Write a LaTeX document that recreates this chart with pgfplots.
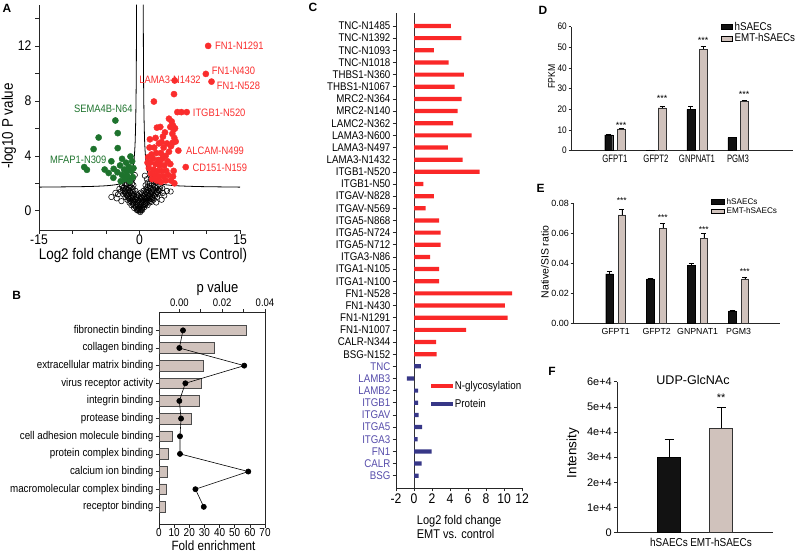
\documentclass[border=0pt]{standalone}
\usepackage{pgfplots}
\pgfplotsset{compat=1.18}
\usepackage{fontspec}
\setmainfont{Liberation Sans}
\newfontfamily\nar[FakeStretch=0.87]{Liberation Sans}
\newfontfamily\narr[FakeStretch=0.72]{Liberation Sans}
\newcommand\fsz[1]{\fontsize{#1}{#1}\selectfont}
\definecolor{volred}{RGB}{250,45,45}
\definecolor{volgreen}{RGB}{30,115,45}
\definecolor{beige}{RGB}{208,194,188}
\definecolor{barblk}{RGB}{18,18,18}
\definecolor{glyred}{RGB}{250,40,40}
\definecolor{protblue}{RGB}{55,55,135}
\definecolor{protlab}{RGB}{85,75,170}
\pgfplotsset{every axis/.append style={
  /pgf/number format/assume math mode=true,
  scale only axis, anchor=south west, scaled ticks=false,
  axis line style={line width=0.7bp, black!85},
  tick style={line width=0.6bp, black!85},
  tick align=outside},
  errs/.style={error bars/.cd, y dir=plus, y explicit,
    error bar style={line width=0.6bp, black},
    error mark options={rotate=90, mark size=#1, line width=0.6bp}}}
\begin{document}
\begin{tikzpicture}[x=1bp,y=1bp]
\useasboundingbox (0,0) rectangle (800,553);

% ---------------- A: volcano
\begin{axis}[at={(39bp,323bp)}, width=201bp, height=225.3bp,
  xmin=-15, xmax=15, ymin=-1.4, ymax=15,
  axis x line*=bottom, axis y line*=left,
  xtick={-15,0,15}, minor xtick={-10,-5,5,10},
  ytick={0,4,8,12}, minor ytick={2,6,10,14},
  major tick length=4bp, minor tick length=4bp,
  tick label style={font=\nar\fsz{14}},
  xticklabel style={inner sep=1bp}, clip=false]
\addplot[only marks, mark=o, mark size=2.7bp, mark options={black, line width=0.55bp}] coordinates {
(-0.4,0.05) (-0.2,0.0) (0,0.05) (0.2,0.0) (0.4,0.05) (0.1,-0.1) (-0.1,0.15)
(-0.8,0.2) (-0.5,0.25) (-0.2,0.2) (0.1,0.25) (0.4,0.2) (0.7,0.25)
(-1.2,0.4) (-0.9,0.45) (-0.6,0.4) (-0.3,0.45) (0,0.4) (0.3,0.45) (0.6,0.4) (0.9,0.45) (1.2,0.4)
(-1.5,0.6) (-1.2,0.65) (-0.9,0.6) (-0.6,0.65) (-0.3,0.6) (0,0.65) (0.3,0.6) (0.6,0.65) (0.9,0.6) (1.2,0.65) (1.5,0.6) (1.8,0.65)
(-1.8,0.8) (-1.4,0.85) (-1.0,0.8) (-0.6,0.85) (-0.2,0.8) (0.2,0.85) (0.6,0.8) (1.0,0.85) (1.4,0.8) (1.8,0.85) (2.1,0.8)
(-2.1,1.0) (-1.7,1.05) (-1.3,1.0) (-0.9,1.05) (-0.5,1.0) (-0.1,1.05) (0.3,1.0) (0.7,1.05) (1.1,1.0) (1.5,1.05) (1.9,1.0) (2.3,1.05) (2.6,1.0)
(-2.4,1.2) (-2.0,1.25) (-1.6,1.2) (-1.2,1.25) (-0.8,1.2) (-0.4,1.25) (0.4,1.25) (0.8,1.2) (1.2,1.25) (1.6,1.2) (2.0,1.25) (2.4,1.2) (2.8,1.25)
(-2.8,1.4) (-2.2,1.45) (-1.8,1.4) (-1.4,1.45) (-1.0,1.4) (-0.6,1.45) (0.6,1.45) (1.0,1.4) (1.4,1.45) (1.8,1.4) (2.2,1.45) (2.6,1.4) (3.0,1.45)
(-3.0,1.6) (-2.5,1.65) (-2.0,1.6) (-1.5,1.65) (-1.0,1.6) (1.0,1.6) (1.5,1.65) (2.0,1.6) (2.5,1.65) (3.0,1.6) (3.4,1.65)
(-2.6,1.8) (-2.0,1.85) (-1.4,1.8) (-0.9,1.85) (0.9,1.85) (1.5,1.8) (2.1,1.85) (2.7,1.8)
(-2.2,2.0) (-1.6,2.05) (-1.1,2.0) (1.2,2.05) (1.8,2.0) (2.4,2.05)
(-1.5,2.3) (-1.0,2.35) (1.1,2.3) (1.7,2.35) (-0.7,2.6) (0.8,2.55)
(-0.3,0.1) (0.3,0.1) (-0.6,0.3) (0.5,0.3) (-1.0,0.5) (-0.45,0.5) (0.15,0.5) (0.75,0.5) (1.05,0.55)
(-1.35,0.7) (-0.75,0.7) (-0.15,0.7) (0.45,0.7) (1.05,0.7) (1.6,0.72) (-1.6,0.9) (-1.2,0.92) (-0.4,0.9)
(0.4,0.92) (0.8,0.9) (1.2,0.92) (1.6,0.9) (1.95,0.92) (-1.9,1.12) (-1.1,1.12) (-0.3,1.12) (0.5,1.12)
(1.3,1.12) (2.1,1.12) (-2.2,1.32) (-1.4,1.32) (0.2,1.32) (1.0,1.32) (1.8,1.32) (2.6,1.32) (-2.5,1.52)
(-1.6,1.52) (1.2,1.52) (2.0,1.52) (2.8,1.52) (-2.3,1.7) (-1.2,1.7) (1.2,1.72) (2.3,1.72) (3.1,1.75)
(-1.9,1.95) (1.5,1.95) (2.1,2.15) (-1.3,2.15) (-3.2,1.2) (3.5,1.3)
(-4.2,1.0) (-3.6,1.3) (-3.4,0.9) (4.1,1.45) (4.65,1.4) (3.7,1.1) (3.3,0.8) (-2.7,0.7) (2.5,0.6)};
\addplot[black, line width=0.8bp, smooth] coordinates {(-15,1.72) (-8,1.76) (-5,1.82) (-3.5,1.9) (-2.5,2.0) (-1.8,2.2) (-1.3,2.5) (-1.0,3.0) (-0.8,3.8) (-0.65,5) (-0.55,7) (-0.48,10) (-0.44,15)};
\addplot[black, line width=0.8bp, smooth] coordinates {(0.56,15) (0.6,10) (0.67,7) (0.77,5) (0.92,3.8) (1.1,3.0) (1.45,2.5) (2.0,2.2) (2.7,2.0) (3.8,1.9) (5.5,1.82) (9,1.76) (15,1.72)};
\addplot[only marks, mark=*, mark size=3.1bp, volgreen] coordinates {
(-3.6,6.57) (-3.25,5.65) (-6.1,5.33) (-6.85,4.49) (-3.25,4.56) (-8.25,3.18) (-7.85,2.98) (-3.85,3.05) (-2.6,3.78) (-1.35,3.95) (-1.1,3.6) (-2.0,3.5) (-2.9,3.3) (-1.6,3.2) (-2.3,3.0) (-1.2,2.9) (-3.3,2.8) (-4.6,2.75) (-2.6,2.6) (-1.8,2.5) (-1.0,2.45) (-2.2,2.3) (-3.9,2.4) (-1.45,2.15) (-2.8,2.15) (-5.2,3.0) (-0.9,3.1) (-1.9,2.85) (-4.2,3.6)};
\addplot[only marks, mark=*, mark size=3.1bp, volred] coordinates {
(10.25,12.0) (9.9,9.96) (10.75,9.4) (5.25,9.48) (5.15,8.49) (2.15,7.95) (5.65,7.18) (6.25,7.18) (7.05,7.18) (5.8,4.38) (6.9,3.18)
(4.4,6.7) (4.8,6.5) (5.0,6.2) (5.1,5.9) (4.9,5.6) (5.3,6.0) (4.6,6.1) (5.2,5.3) (4.95,4.95) (5.4,5.04)
(1.55,5.2) (2.6,6.05) (3.1,6.1) (3.8,5.7) (3.5,5.4) (4.1,4.9) (2.9,4.9) (2.2,4.6) (3.6,4.6) (4.4,4.3) (1.8,4.1) (2.5,4.2) (3.2,4.2) (3.9,4.0) (1.3,3.9) (2.0,3.8) (2.8,3.7) (3.4,3.8) (4.2,3.6) (1.6,3.5) (2.4,3.4) (3.0,3.3) (3.7,3.3) (4.6,3.4) (1.4,3.1) (2.1,3.0) (2.7,2.9) (3.3,2.9) (4.0,2.9) (1.7,2.7) (2.3,2.6) (2.9,2.5) (3.6,2.5) (4.3,2.6) (5.1,2.9) (1.9,2.3) (2.6,2.2) (3.2,2.1) (3.9,2.2) (4.7,2.2) (5.2,2.0) (1.5,4.6) (2.4,5.3) (3.3,5.0) (4.7,4.7) (3.1,3.65) (5.0,2.5) (1.2,3.5)};
\end{axis}
\node[font=\bfseries\fsz{12}] at (7,545) {A};
\node[font=\nar\fsz{15.5}, rotate=90] at (9,427) {-log10 P value};
\node[font=\nar\fsz{15.5}] at (143,297) {Log2 fold change (EMT vs Control)};
\begin{scope}[font=\nar\fsz{10.8}, text=volred, inner sep=0pt]
\node[anchor=west] at (215,507) {FN1-N1291};
\node[anchor=west] at (211.7,482.3) {FN1-N430};
\node[anchor=west] at (216.7,467) {FN1-N528};
\node at (170,473) {LAMA3-N1432};
\node[anchor=west] at (192.7,440.3) {ITGB1-N520};
\node[anchor=west] at (186,402.3) {ALCAM-N499};
\node[anchor=west] at (192.3,384.7) {CD151-N159};
\end{scope}
\begin{scope}[font=\nar\fsz{10.8}, text=volgreen, inner sep=0pt]
\node[anchor=west] at (74,443.7) {SEMA4B-N64};
\node[anchor=west] at (50,393) {MFAP1-N309};
\end{scope}

% ---------------- B: GO enrichment
\begin{axis}[at={(159bp,28.5bp)}, width=106bp, height=211.8bp,
  xmin=0, xmax=70, ymin=-1, ymax=11,
  xtick={0,10,...,70}, xtick pos=bottom, ytick pos=left,
  ytick={0,...,10},
  yticklabels={receptor binding, macromolecular complex binding, calcium ion binding, protein complex binding, cell adhesion molecule binding, protease binding, integrin binding, virus receptor activity, extracellular matrix binding, collagen binding, fibronectin binding},
  major tick length=3.5bp,
  xticklabel style={font=\nar\fsz{11.5}, inner sep=0.5bp},
  yticklabel style={font=\nar\fsz{11.3}, inner sep=2bp}]
\addplot[xbar, bar width=10.5bp, bar shift=0pt, fill=beige, draw=black!70, line width=0.5bp] coordinates {(4.0,0) (5.1,1) (5.5,2) (6.4,3) (8.8,4) (21.4,5) (26.4,6) (28,7) (29.5,8) (36.8,9) (57.9,10)};
\end{axis}
\begin{axis}[at={(159bp,28.5bp)}, width=106bp, height=211.8bp,
  xmin=-0.0095, xmax=0.04, ymin=-1, ymax=11,
  axis x line*=top, axis y line=none,
  xtick={0,0.01,0.02,0.03,0.04}, xticklabels={0.00,,0.02,,0.04},
  major tick length=3.5bp,
  xticklabel style={font=\nar\fsz{11}, inner sep=2bp}, clip=false]
\addplot[black, line width=0.6bp, mark=*, mark size=2.6bp] coordinates {(0.0017,10) (0.0,9) (0.0303,8) (0.0028,7) (0.0,6) (0.0008,5) (0.0003,4) (0.0003,3) (0.0322,2) (0.0075,1) (0.0114,0)};
\end{axis}
\node[font=\bfseries\fsz{12}] at (16.7,258) {B};
\node[font=\nar\fsz{15}] at (217.5,264) {p value};
\node[font=\nar\fsz{13.5}, inner sep=0pt] at (213.5,7.6) {Fold enrichment};

% ---------------- C: glyco sites
\begin{axis}[at={(396bp,65bp)}, width=126bp, height=475bp,
  xmin=-2, xmax=12, ymin=-1.01, ymax=38.07,
  axis x line*=bottom, axis y line*=left,
  xtick={-2,0,...,12}, ytick={0,...,37},
  yticklabels={{\color{protlab}BSG},{\color{protlab}CALR},{\color{protlab}FN1},{\color{protlab}ITGA3},{\color{protlab}ITGA5},{\color{protlab}ITGAV},{\color{protlab}ITGB1},{\color{protlab}LAMB2},{\color{protlab}LAMB3},{\color{protlab}TNC},
    BSG-N152,CALR-N344,FN1-N1007,FN1-N1291,FN1-N430,FN1-N528,ITGA1-N100,ITGA1-N105,ITGA3-N86,ITGA5-N712,ITGA5-N724,ITGA5-N868,ITGAV-N569,ITGAV-N828,ITGB1-N50,ITGB1-N520,LAMA3-N1432,LAMA3-N497,LAMA3-N600,LAMC2-N362,MRC2-N140,MRC2-N364,THBS1-N1067,THBS1-N360,TNC-N1018,TNC-N1093,TNC-N1392,TNC-N1485},
  major tick length=3.5bp,
  xticklabel style={font=\nar\fsz{14}, inner sep=2bp},
  yticklabel style={font=\nar\fsz{11.2}, inner sep=2bp},
  legend style={at={(axis description cs:0.275,0.229)}, anchor=north west, draw=none, fill=none, font=\nar\fsz{11.3}, row sep=4bp, inner sep=0pt},
  legend cell align=left,
  legend image code/.code={\fill[#1] (0bp,-2.2bp) rectangle (22bp,2.2bp);}]
\draw[black!80, line width=0.8bp] (axis cs:0,-1.01) -- (axis cs:0,38.07);
\addplot[xbar, bar width=4.2bp, bar shift=0pt, fill=glyred, draw=none] coordinates {
(2.5,10) (2.45,11) (5.8,12) (10.4,13) (10.1,14) (10.9,15) (2.8,16) (2.8,17) (1.8,18) (2.95,19) (2.95,20) (2.8,21) (1.3,22) (2.2,23) (1.05,24) (7.3,25) (5.4,26) (3.75,27) (6.4,28) (4.35,29) (4.85,30) (5.3,31) (4.5,32) (5.55,33) (3.85,34) (2.2,35) (5.25,36) (4.1,37)};
\addlegendentry{N-glycosylation}
\addplot[xbar, bar width=4.2bp, bar shift=0pt, fill=protblue, draw=none] coordinates {
(0.5,0) (0.85,1) (1.95,2) (0.4,3) (0.9,4) (0.5,5) (0.45,6) (0.45,7) (-0.8,8) (0.75,9)};
\addlegendentry{Protein}
\end{axis}
\node[font=\bfseries\fsz{12}] at (313,546) {C};
\node[font=\nar\fsz{12.7}, align=left, anchor=west, inner sep=0pt] at (416.7,26.3) {Log2 fold change\\[1.5bp]EMT vs. control};

% ---------------- D: FPKM
\begin{axis}[at={(571bp,402.3bp)}, width=222bp, height=124bp,
  xmin=-1.07, xmax=4.34, ymin=0, ymax=60,
  axis x line*=bottom, axis y line*=left,
  ytick={0,10,...,60}, xtick={0,1,2,3}, xticklabels={GFPT1,GFPT2,GNPNAT1,PGM3},
  x tick style={draw=none}, major tick length=2.5bp,
  xticklabel style={font=\narr\fsz{10.8}, inner sep=2bp},
  yticklabel style={font=\nar\fsz{9.5}, inner sep=1.5bp},
  legend style={at={(axis description cs:0.676,1.054)}, anchor=north west, draw=none, fill=none, font=\nar\fsz{11.3}, row sep=-2bp, inner sep=0pt},
  legend cell align=left,
  legend image code/.code={\draw[#1, draw=black, line width=0.4bp] (0bp,-2.6bp) rectangle (11bp,2.6bp);},
  clip=false]
\addplot[ybar, bar width=8bp, bar shift=0pt, fill=barblk, draw=black, line width=0.4bp, errs=2.5bp]
  coordinates {(-0.151,7.6) +- (0,0.3) (0.849,0.3) +- (0,0.05) (1.849,20) +- (0,1.6) (2.849,6.3) +- (0,0.3)};
\addlegendentry{hSAECs}
\addplot[ybar, bar width=8bp, bar shift=0pt, fill=beige, draw=black!80, line width=0.4bp, errs=2.5bp]
  coordinates {(0.151,10.5) +- (0,0.4) (1.151,20.8) +- (0,0.5) (2.151,49.2) +- (0,1.4) (3.151,24) +- (0,0.3)};
\addlegendentry{EMT-hSAECs}
\addplot[only marks, mark=none, forget plot, nodes near coords, point meta=explicit symbolic,
  every node near coord/.style={font=\fsz{9}, anchor=center}]
  coordinates {(0.151,12.2) [***] (1.151,25.1) [***] (2.151,53.3) [***] (3.151,27.2) [***]};
\end{axis}
\node[font=\bfseries\fsz{12}] at (543,543) {D};
\node[font=\nar\fsz{10}, rotate=90] at (551.7,476.3) {FPKM};

% ---------------- E: native/SIS
\begin{axis}[at={(573bp,229.7bp)}, width=207bp, height=120bp,
  xmin=-1.04, xmax=4.01, ymin=0, ymax=0.08,
  axis x line*=bottom, axis y line*=left,
  ytick={0,0.02,0.04,0.06,0.08}, yticklabels={0.00,0.02,0.04,0.06,0.08},
  xtick={0,1,2,3}, xticklabels={GFPT1,GFPT2,GNPNAT1,PGM3},
  x tick style={draw=none}, major tick length=2.5bp,
  xticklabel style={font=\fsz{8.8}, inner sep=2bp},
  yticklabel style={font=\fsz{9}, inner sep=1.5bp},
  legend style={at={(axis description cs:0.667,1.06)}, anchor=north west, draw=none, fill=none, font=\fsz{8.2}, row sep=-2bp, inner sep=0pt},
  legend cell align=left,
  legend image code/.code={\draw[#1, draw=black, line width=0.4bp] (0bp,-2.3bp) rectangle (13bp,2.3bp);},
  clip=false]
\addplot[ybar, bar width=7.5bp, bar shift=0pt, fill=barblk, draw=black, line width=0.4bp, errs=2.5bp]
  coordinates {(-0.151,0.0329) +- (0,0.0018) (0.849,0.0296) +- (0,0.0007) (1.849,0.0385) +- (0,0.0013) (2.849,0.0082) +- (0,0.0007)};
\addlegendentry{hSAECs}
\addplot[ybar, bar width=7.5bp, bar shift=0pt, fill=beige, draw=black!80, line width=0.4bp, errs=2.5bp]
  coordinates {(0.151,0.0723) +- (0,0.0040) (1.151,0.0632) +- (0,0.0035) (2.151,0.0568) +- (0,0.0029) (3.151,0.0296) +- (0,0.0013)};
\addlegendentry{EMT-hSAECs}
\addplot[only marks, mark=none, forget plot, nodes near coords, point meta=explicit symbolic,
  every node near coord/.style={font=\fsz{8.5}, anchor=center}]
  coordinates {(0.151,0.0815) [***] (1.151,0.0705) [***] (2.151,0.0627) [***] (3.151,0.0344) [***]};
\end{axis}
\node[font=\bfseries\fsz{12}] at (540.5,365) {E};
\node[font=\fsz{10.5}, rotate=90] at (545,291) {Native/SIS ratio};

% ---------------- F: UDP-GlcNAc
\begin{axis}[at={(617bp,20.3bp)}, width=156bp, height=151bp,
  xmin=0, xmax=3, ymin=0, ymax=60000,
  axis x line*=bottom, axis y line*=left,
  ytick={0,10000,...,60000}, yticklabels={0,1e+4,2e+4,3e+4,4e+4,5e+4,6e+4},
  xtick={1,2}, xticklabels={hSAECs,EMT-hSAECs},
  x tick style={draw=none}, major tick length=3bp,
  xticklabel style={font=\nar\fsz{11.5}, inner sep=2bp},
  yticklabel style={font=\fsz{11}, inner sep=2bp}, clip=false]
\addplot[ybar, bar width=23bp, bar shift=0pt, fill=barblk, draw=black, line width=0.5bp, errs=4.5bp]
  coordinates {(1,29800) +- (0,7400)};
\addplot[ybar, bar width=23bp, bar shift=0pt, fill=beige, draw=black!80, line width=0.5bp, errs=4.5bp]
  coordinates {(2,41500) +- (0,8300)};
\addplot[only marks, mark=none, nodes near coords, point meta=explicit symbolic,
  every node near coord/.style={font=\fsz{11}, anchor=center}]
  coordinates {(2,53500) [**]};
\end{axis}
\node[font=\bfseries\fsz{12}] at (552,181.3) {F};
\node[font=\fsz{13.5}, rotate=90] at (573,100) {Intensity};
\node[font=\fsz{12.6}] at (693,173) {UDP-GlcNAc};
\end{tikzpicture}
\end{document}
